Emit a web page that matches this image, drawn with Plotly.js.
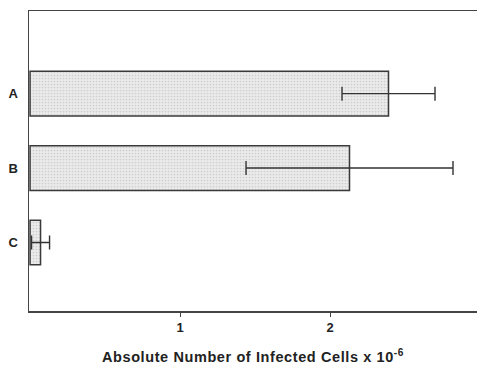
<!DOCTYPE html>
<html>
<head>
<meta charset="utf-8">
<script src="https://cdn.plot.ly/plotly-3.0.1.min.js"></script>
<style>html,body{margin:0;padding:0;background:#fff;}#chart{width:477px;height:367px;}
#chart .xtitle{letter-spacing:0.6px;}</style>
</head>
<body>
<div id="chart"></div>
<script>
var categories = ['A', 'B', 'C'];
var values = [2.39, 2.13, 0.07];
var errors = [0.31, 0.69, 0.06];
var tickVals = [1, 2];
var tickText = ['1', '2'];

var trace = {
  type: 'bar',
  orientation: 'h',
  y: categories,
  x: values,
  width: 0.6,
  marker: {
    color: '#e4e4e4',
    line: {color: '#3a3a3a', width: 1.5},
    pattern: {shape: '.', fgcolor: '#cdcdcd', bgcolor: '#ebebeb', size: 3, solidity: 0.25}
  },
  error_x: {type: 'data', array: errors, visible: true, color: '#333', thickness: 1.4, width: 7},
  hoverinfo: 'none'
};

var font = 'Arial, "Liberation Sans", Helvetica, sans-serif';
var layout = {
  width: 477, height: 367,
  margin: {l: 29, r: 0, t: 11, b: 56},
  paper_bgcolor: '#fff', plot_bgcolor: '#fff',
  showlegend: false,
  font: {family: font, color: '#222'},
  xaxis: {
    range: [-0.007, 2.98],
    tickvals: tickVals, ticktext: tickText,
    ticks: 'outside', ticklen: 4, tickwidth: 1, tickcolor: '#444',
    showline: true, mirror: true, linecolor: '#444', linewidth: 1.5,
    showgrid: false, zeroline: false,
    tickfont: {family: font, size: 13, color: '#222', weight: 'bold'},
    title: {text: 'Absolute Number of Infected Cells x 10<sup>-6</sup>', standoff: 18,
            font: {family: font, size: 14.5, color: '#222', weight: 'bold'}}
  },
  yaxis: {
    type: 'category',
    range: [2.92, -1.11],
    showline: true, linecolor: '#444', linewidth: 1.5,
    showgrid: false, zeroline: false,
    ticks: '', ticklabelstandoff: 7,
    tickfont: {family: font, size: 13, color: '#222', weight: 'bold'}
  }
};

Plotly.newPlot('chart', [trace], layout, {displayModeBar: false, staticPlot: true});
</script>
</body>
</html>
